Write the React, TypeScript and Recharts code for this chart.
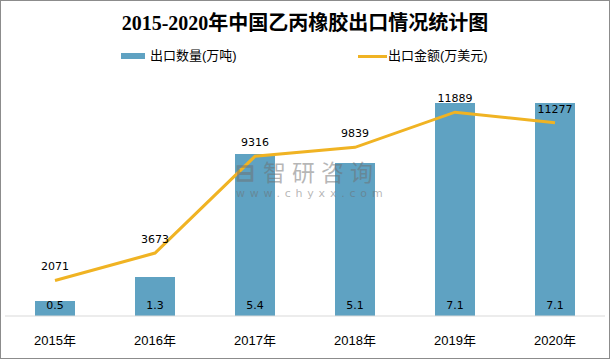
import {
  ComposedChart,
  Bar,
  Line,
  XAxis,
  YAxis,
  LabelList,
  Legend,
} from "recharts";

const years = ["2015年", "2016年", "2017年", "2018年", "2019年", "2020年"];
const exportVolume = [0.5, 1.3, 5.4, 5.1, 7.1, 7.1];
const exportValue = [2071, 3673, 9316, 9839, 11889, 11277];

const barColor = "#5fa2c2";
const lineColor = "#f0b323";
const numFont = "'DejaVu Sans', sans-serif";
const cjkFont = "'Liberation Sans', 'Noto Sans CJK SC', sans-serif";

const data = years.map((year, i) => ({
  year,
  volume: exportVolume[i],
  value: exportValue[i],
}));

function LegendContent() {
  return (
    <div style={{ position: "relative", height: 20, fontFamily: cjkFont, fontSize: 13, lineHeight: "16px", color: "#000" }}>
      <div style={{ position: "absolute", left: 121, top: 7, width: 24, height: 6, background: barColor }} />
      <span style={{ position: "absolute", left: 150, top: 2 }}>出口数量(万吨)</span>
      <div style={{ position: "absolute", left: 358, top: 9, width: 29, height: 3, background: lineColor }} />
      <span style={{ position: "absolute", left: 388, top: 2 }}>出口金额(万美元)</span>
    </div>
  );
}

export default function App() {
  return (
    <div style={{ position: "absolute", left: 0, top: 0, width: 610, height: 359, background: "#fff" }}>
      <style>{"body{margin:0}"}</style>
      <div
        style={{
          position: "absolute",
          top: 11,
          width: 610,
          textAlign: "center",
          fontFamily: "'Liberation Serif', 'Noto Sans CJK SC', serif",
          fontWeight: "bold",
          fontSize: 20,
          lineHeight: "24px",
          color: "#000",
        }}
      >
        2015-2020年中国乙丙橡胶出口情况统计图
      </div>
      <ComposedChart
        width={610}
        height={359}
        data={data}
        margin={{ top: 56, right: 5, bottom: 0, left: 5 }}
        style={{ position: "absolute", left: 0, top: 0 }}
      >
        <XAxis
          dataKey="year"
          height={43}
          axisLine={{ stroke: "#d9d9d9" }}
          tickLine={false}
          tick={{ fill: "#000", fontSize: 13, fontFamily: cjkFont }}
          tickMargin={14}
        />
        <YAxis yAxisId="left" hide domain={[0, 8]} />
        <YAxis yAxisId="right" hide orientation="right" domain={[0, 14000]} />
        <Legend
          verticalAlign="top"
          height={20}
          wrapperStyle={{ top: 46, left: 0, width: 610 }}
          content={<LegendContent />}
        />
        <Bar yAxisId="left" dataKey="volume" fill={barColor} barSize={40} isAnimationActive={false}>
          <LabelList
            dataKey="volume"
            position="insideBottom"
            offset={7}
            fill="#000"
            fontSize={11}
            fontFamily={numFont}
          />
        </Bar>
        <Line
          yAxisId="right"
          dataKey="value"
          stroke={lineColor}
          strokeWidth={3}
          dot={false}
          type="linear"
          isAnimationActive={false}
        >
          <LabelList
            dataKey="value"
            position="top"
            offset={10}
            fill="#000"
            fontSize={11}
            fontFamily={numFont}
          />
        </Line>
      </ComposedChart>
      <div
        style={{
          position: "absolute",
          left: 235,
          top: 160,
          fontFamily: cjkFont,
          fontSize: 23,
          lineHeight: "26px",
          color: "rgba(110,110,110,0.5)",
          letterSpacing: 6,
          whiteSpace: "nowrap",
        }}
      >
        <span style={{ fontSize: 24, marginRight: 2, fontWeight: "bold" }}>⊟</span>智研咨询
      </div>
      <div
        style={{
          position: "absolute",
          left: 236,
          top: 188,
          fontFamily: numFont,
          fontSize: 11,
          lineHeight: "12px",
          color: "rgba(110,110,110,0.5)",
          letterSpacing: 4.8,
          whiteSpace: "nowrap",
        }}
      >
        www.chyxx.com
      </div>
      <div
        style={{
          position: "absolute",
          inset: 0,
          border: "1px solid #8c8c8c",
          boxSizing: "border-box",
          pointerEvents: "none",
        }}
      />
    </div>
  );
}
